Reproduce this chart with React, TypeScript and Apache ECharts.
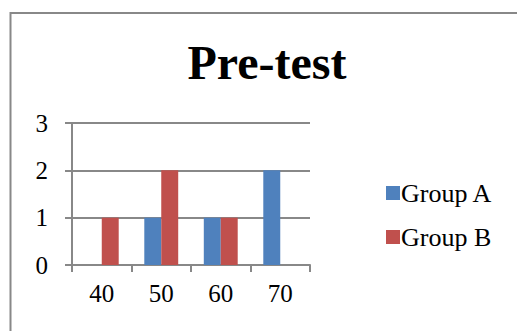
import React, { useEffect, useRef } from "react";
import * as echarts from "echarts";

const categories = ["40", "50", "60", "70"];
const groupA = [0, 1, 1, 2];
const groupB = [1, 2, 1, 0];
const yTicks = [0, 1, 2, 3];
const title = "Pre-test";
const seriesNames = ["Group A", "Group B"];

export default function App() {
  const ref = useRef<HTMLDivElement>(null);
  useEffect(() => {
    document.body.style.margin = "0";
    if (!ref.current) return;
    const chart = echarts.init(ref.current, null, { renderer: "svg" });
    const font = "Liberation Serif, Times New Roman, serif";
    const gray = "#888888";
    chart.setOption({
      animation: false,
      backgroundColor: "#ffffff",
      title: {
        text: title,
        left: 262,
        textAlign: "center",
        top: 33,
        textStyle: { fontFamily: font, fontSize: 48, fontWeight: "bold", color: "#000" },
      },
      graphic: [
        {
          type: "rect",
          shape: { x: 10.5, y: 13, width: 520, height: 340 },
          style: { fill: "none", stroke: gray, lineWidth: 2 },
          silent: true,
        },
      ],
      legend: {
        orient: "vertical",
        left: 381,
        top: 175,
        itemWidth: 14,
        itemHeight: 14,
        itemGap: 18,
        icon: "rect",
        textStyle: { fontFamily: font, fontSize: 26, color: "#000", padding: [0, 0, 0, -4] },
        data: seriesNames,
      },
      grid: { left: 72, right: 207, top: 123, bottom: 66 },
      xAxis: {
        type: "category",
        data: categories,
        axisLine: { lineStyle: { color: gray, width: 2 } },
        axisTick: { show: true, length: 7, lineStyle: { color: gray, width: 2 } },
        axisLabel: { fontFamily: font, fontSize: 25, color: "#000", margin: 16 },
      },
      yAxis: {
        type: "value",
        min: 0,
        max: 3,
        interval: 1,
        axisLine: { show: true, lineStyle: { color: gray, width: 2 } },
        axisTick: { show: true, length: 7, lineStyle: { color: gray, width: 2 } },
        splitLine: { lineStyle: { color: gray, width: 2 } },
        axisLabel: {
          fontFamily: font,
          fontSize: 25,
          color: "#000",
          margin: 24,
          formatter: (v: number) => (yTicks.includes(v) ? String(v) : ""),
        },
      },
      series: [
        {
          name: seriesNames[0],
          type: "bar",
          data: groupA,
          barGap: "0%",
          barCategoryGap: "43%",
          itemStyle: { color: "#4F81BD" },
        },
        {
          name: seriesNames[1],
          type: "bar",
          data: groupB,
          barGap: "0%",
          barCategoryGap: "43%",
          itemStyle: { color: "#C0504D" },
        },
      ],
    });
    return () => chart.dispose();
  }, []);
  return <div ref={ref} style={{ width: 517, height: 331 }} />;
}
